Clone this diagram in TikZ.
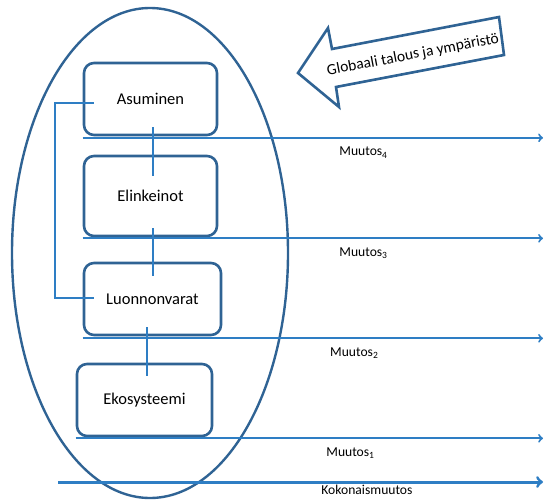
\documentclass[tikz,border=0pt]{standalone}
\usepackage{fontspec}
\setmainfont{Carlito}
\usetikzlibrary{positioning}

\definecolor{frameblue}{RGB}{47,99,148}
\definecolor{lineblue}{RGB}{46,126,196}

\tikzset{
  sector/.style={draw=frameblue, line width=2.6pt, rounded corners=10pt,
    minimum width=133pt, minimum height=72pt,
    font=\fontsize{16.5}{19}\selectfont},
  change/.style={lineblue, line width=2pt, ->},
  link/.style={lineblue, line width=1.6pt},
  changelabel/.style={text=black, font=\fontsize{13.6}{16}\selectfont},
}

\begin{document}
\begin{tikzpicture}[x=1pt, y=-1pt]
  \useasboundingbox (0,0) rectangle (545,500);

  \draw [frameblue, line width=2.4pt]
    (150,253) ellipse [x radius=138pt, y radius=245pt]
  ;

  \node (asuminen) [sector] at (150.5,99) {Asuminen};
  \node (elinkeinot) [sector, minimum height=80pt] at (150.5,196) {Elinkeinot};
  \node (luonnonvarat) [sector, minimum width=137pt] at (152.5,299) {Luonnonvarat};
  \node (ekosysteemi) [sector, minimum width=135pt] at (144.5,400) {Ekosysteemi};

  \draw [link]
    ([xshift=2.5pt, yshift=9pt]asuminen.south)
      -- ([xshift=2.5pt, yshift=-21pt]elinkeinot.north)
  ;
  \draw [link]
    ([xshift=2.5pt, yshift=9pt]elinkeinot.south)
      -- ([xshift=0.5pt, yshift=-14pt]luonnonvarat.north)
  ;
  \draw [link]
    ([xshift=-5.5pt, yshift=9pt]luonnonvarat.south)
      -- ([xshift=2.5pt, yshift=-13pt]ekosysteemi.north)
  ;
  \draw [link]
    ([xshift=11pt, yshift=-4pt]asuminen.west)
      -- ++(-39,0)
      |- ([xshift=11pt, yshift=1pt]luonnonvarat.west)
  ;

  % changes
  \coordinate (edge) at (543,0);
  \draw [change]
    ([yshift=-1.5pt]asuminen.south west)
      -- ([yshift=-1.5pt]asuminen.south west -| edge)
      node (muutos4) [changelabel, pos=0.61, below=5pt] {Muutos\textsubscript{4}}
  ;
  \draw [change]
    ([yshift=-1pt]elinkeinot.south west)
      -- ([yshift=-1pt]elinkeinot.south west -| edge)
      node (muutos3) [changelabel, pos=0.61, below=5pt] {Muutos\textsubscript{3}}
  ;
  \draw [change]
    ([yshift=-2pt]luonnonvarat.south west)
      -- ([yshift=-2pt]luonnonvarat.south west -| edge)
      node (muutos2) [changelabel, pos=0.59, below=5pt] {Muutos\textsubscript{2}}
  ;
  \draw [change]
    ([yshift=-1pt]ekosysteemi.south west)
      -- ([yshift=-1pt]ekosysteemi.south west -| edge)
      node (muutos1) [changelabel, pos=0.588, below=5pt] {Muutos\textsubscript{1}}
  ;
  \coordinate (total start) at (58,482);
  \coordinate (total end) at (543,482);
  \draw [change, line width=3pt]
    (total start) -- (total end)
      node (kokonais) [changelabel, pos=0.637, below=1pt, inner sep=1pt] {Kokonaismuutos}
  ;

  % global arrow
  \draw [frameblue, line width=2.6pt, fill=white]
    (298,73) -- (328,28) -- (332,49) -- (499,17)
      -- (504,55) -- (336,87) -- (339,107) -- cycle
  ;
  \node (global) [rotate=10.8, font=\fontsize{15.5}{18}\selectfont]
    at (413,55) {Globaali talous ja ympäristö};
\end{tikzpicture}
\end{document}
